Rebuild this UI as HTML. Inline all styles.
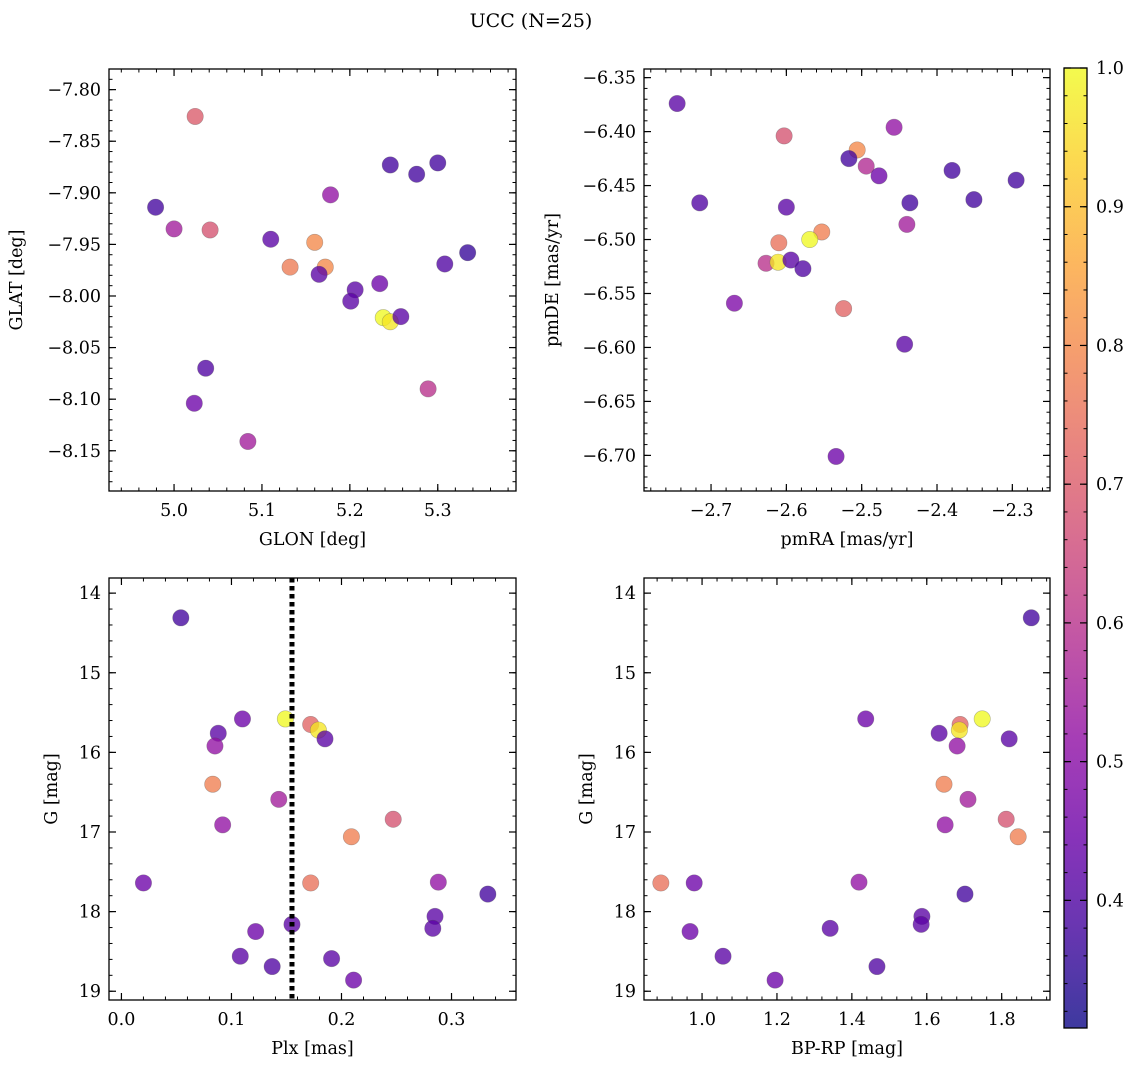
<!DOCTYPE html>
<html><head><meta charset="utf-8">
<style>
html,body{margin:0;padding:0;background:#fff;}
svg{display:block;font-family:"DejaVu Serif","Liberation Serif",serif;}
</style></head>
<body>
<svg id="fig" width="1136" height="1068" viewBox="0 0 1136 1068" xmlns="http://www.w3.org/2000/svg">
<text x="531" y="27" font-size="19" text-anchor="middle">UCC (N=25)</text>
</svg>
<script>
// ---- data ----
const glon = [5.024,4.979,5.000,5.041,5.110,5.160,5.132,5.172,5.165,5.178,5.246,5.276,5.300,5.334,5.308,5.234,5.206,5.201,5.238,5.246,5.258,5.036,5.289,5.023,5.084];
const glat = [-7.826,-7.914,-7.935,-7.936,-7.945,-7.948,-7.972,-7.972,-7.979,-7.902,-7.873,-7.882,-7.871,-7.958,-7.969,-7.988,-7.994,-8.005,-8.021,-8.025,-8.020,-8.070,-8.090,-8.104,-8.141];
const probPos = [0.70,0.38,0.55,0.68,0.42,0.80,0.77,0.80,0.42,0.52,0.38,0.38,0.38,0.36,0.40,0.45,0.42,0.42,1.00,0.97,0.42,0.40,0.60,0.45,0.55];

const pmra = [-2.745,-2.603,-2.457,-2.506,-2.517,-2.494,-2.477,-2.380,-2.295,-2.715,-2.600,-2.436,-2.351,-2.440,-2.610,-2.553,-2.569,-2.627,-2.611,-2.594,-2.578,-2.669,-2.524,-2.443,-2.534];
const pmde = [-6.374,-6.404,-6.396,-6.417,-6.425,-6.432,-6.441,-6.436,-6.445,-6.466,-6.470,-6.466,-6.463,-6.486,-6.503,-6.493,-6.500,-6.522,-6.521,-6.519,-6.527,-6.559,-6.564,-6.597,-6.701];
const probPm = [0.42,0.68,0.52,0.80,0.38,0.58,0.45,0.38,0.38,0.40,0.42,0.38,0.38,0.55,0.75,0.78,1.00,0.60,0.97,0.42,0.40,0.48,0.72,0.42,0.45];

const plx = [0.054,0.110,0.149,0.172,0.179,0.185,0.088,0.085,0.083,0.143,0.092,0.247,0.209,0.020,0.172,0.288,0.333,0.285,0.283,0.155,0.122,0.108,0.137,0.191,0.211];
const gPlx = [14.31,15.58,15.58,15.65,15.72,15.83,15.76,15.92,16.40,16.59,16.91,16.84,17.06,17.64,17.64,17.63,17.78,18.06,18.21,18.16,18.25,18.56,18.69,18.59,18.86];
const probPlx = [0.38,0.45,1.00,0.72,0.97,0.42,0.42,0.52,0.78,0.55,0.52,0.68,0.78,0.45,0.75,0.52,0.38,0.42,0.42,0.42,0.45,0.42,0.40,0.42,0.45];
const plxMean = 0.155;

const bprp = [1.879,1.437,1.633,1.689,1.687,1.748,1.681,1.820,1.646,1.710,1.649,1.812,1.844,0.890,0.979,1.419,1.702,1.587,1.585,0.968,1.056,1.342,1.467,1.195];
const gCmd = [14.31,15.58,15.76,15.65,15.72,15.58,15.92,15.83,16.40,16.59,16.91,16.84,17.06,17.64,17.64,17.63,17.78,18.06,18.16,18.25,18.56,18.21,18.69,18.86];
const probCmd = [0.38,0.45,0.42,0.72,0.97,1.00,0.52,0.42,0.78,0.55,0.52,0.68,0.78,0.75,0.45,0.52,0.38,0.42,0.42,0.45,0.42,0.42,0.40,0.45];

const cbTicks = [0.4,0.5,0.6,0.7,0.8,0.9,1.0];
const VMIN = 0.308, VMAX = 1.0;

// ---- helpers ----
const NS = "http://www.w3.org/2000/svg";
const svg = document.getElementById('fig');
const FS = 17.5;
function mk(tag, attrs, parent){const e=document.createElementNS(NS,tag);for(const k in attrs)e.setAttribute(k,attrs[k]);(parent||svg).appendChild(e);return e;}
const stops=["#0d0887","#41049d","#6a00a8","#8f0da4","#b12a90","#cc4778","#e16462","#f2844b","#fca636","#fcce25","#f0f921"];
function hex(h){return [parseInt(h.substr(1,2),16),parseInt(h.substr(3,2),16),parseInt(h.substr(5,2),16)];}
function plasma(t){t=Math.max(0,Math.min(1,t));const f=t*10;const i=Math.min(9,Math.floor(f));const r=f-i;const a=hex(stops[i]),b=hex(stops[i+1]);return `rgb(${Math.round(a[0]+(b[0]-a[0])*r)},${Math.round(a[1]+(b[1]-a[1])*r)},${Math.round(a[2]+(b[2]-a[2])*r)})`;}
function fmt(v,d){let s=v.toFixed(d);if(v<0)s='\u2212'+s.substring(1);return s;}

function panel(o){
  const {name,x0,y0,x1,y1,xmin,xmax,ymin,ymax,xTicks,yTicks,xMinor,yMinor,xDec,yDec,xLabel,yLabel,yLabelX,invertY}=o;
  const g=mk('g',{});
  
  
  const sx=v=>x0+(v-xmin)/(xmax-xmin)*(x1-x0);
  const sy=invertY?(v=>y0+(v-ymin)/(ymax-ymin)*(y1-y0)):(v=>y1-(v-ymin)/(ymax-ymin)*(y1-y0));
  const lo=Math.min(ymin,ymax),hi=Math.max(ymin,ymax);
  for(let v=Math.ceil(xmin/xMinor)*xMinor;v<=xmax;v+=xMinor){const X=sx(v);
    mk('line',{x1:X,y1:y1,x2:X,y2:y1-3.5,stroke:'#000','stroke-width':1},g);
    mk('line',{x1:X,y1:y0,x2:X,y2:y0+3.5,stroke:'#000','stroke-width':1},g);}
  for(let v=Math.ceil(lo/yMinor)*yMinor;v<=hi;v+=yMinor){const Y=sy(v);
    mk('line',{x1:x0,y1:Y,x2:x0+3.5,y2:Y,stroke:'#000','stroke-width':1},g);
    mk('line',{x1:x1,y1:Y,x2:x1-3.5,y2:Y,stroke:'#000','stroke-width':1},g);}
  xTicks.forEach(v=>{const X=sx(v);
    mk('line',{x1:X,y1:y1,x2:X,y2:y1-7,stroke:'#000','stroke-width':1.2},g);
    mk('line',{x1:X,y1:y0,x2:X,y2:y0+7,stroke:'#000','stroke-width':1.2},g);
    const t=mk('text',{x:X,y:y1+25,'font-size':FS,'text-anchor':'middle'},g);t.textContent=fmt(v,xDec);
    
    });
  yTicks.forEach(v=>{const Y=sy(v);
    mk('line',{x1:x0,y1:Y,x2:x0+7,y2:Y,stroke:'#000','stroke-width':1.2},g);
    mk('line',{x1:x1,y1:Y,x2:x1-7,y2:Y,stroke:'#000','stroke-width':1.2},g);
    const t=mk('text',{x:x0-8,y:Y+6,'font-size':FS,'text-anchor':'end'},g);t.textContent=fmt(v,yDec);
    
    });
  const xl=mk('text',{x:(x0+x1)/2,y:y1+54,'font-size':FS,'text-anchor':'middle'},g);xl.textContent=xLabel;
  
  
  const yl=mk('text',{x:yLabelX,y:(y0+y1)/2,'font-size':FS,'text-anchor':'middle',transform:`rotate(-90 ${yLabelX} ${(y0+y1)/2})`},g);yl.textContent=yLabel;
  
  
  return {g,sx,sy};
}
function scatter(p,xs,ys,ps,name){
  const grp=mk('g',{},p.g);
  xs.forEach((x,i)=>{
    const c=mk('circle',{cx:p.sx(x),cy:p.sy(ys[i]),r:8.2,fill:plasma((ps[i]-VMIN)/(VMAX-VMIN)),'fill-opacity':0.78,stroke:'rgba(80,80,80,0.4)','stroke-width':0.6},grp);
    
    
  });
}
function frame(p,o){mk('rect',{x:o.x0,y:o.y0,width:o.x1-o.x0,height:o.y1-o.y0,fill:'none',stroke:'#000','stroke-width':1.3},p.g);}

const A={name:'sky',x0:109,y0:69,x1:516,y1:491,xmin:4.926,xmax:5.389,ymin:-8.189,ymax:-7.780,xTicks:[5.0,5.1,5.2,5.3],yTicks:[-7.80,-7.85,-7.90,-7.95,-8.00,-8.05,-8.10,-8.15],xMinor:0.02,yMinor:0.01,xDec:1,yDec:2,xLabel:'GLON [deg]',yLabel:'GLAT [deg]',yLabelX:22};
const pA=panel(A);scatter(pA,glon,glat,probPos,'sky');frame(pA,A);

const B={name:'pm',x0:644,y0:69,x1:1050,y1:491,xmin:-2.789,xmax:-2.250,ymin:-6.733,ymax:-6.342,xTicks:[-2.7,-2.6,-2.5,-2.4,-2.3],yTicks:[-6.35,-6.40,-6.45,-6.50,-6.55,-6.60,-6.65,-6.70],xMinor:0.02,yMinor:0.01,xDec:1,yDec:2,xLabel:'pmRA [mas/yr]',yLabel:'pmDE [mas/yr]',yLabelX:558};
const pB=panel(B);scatter(pB,pmra,pmde,probPm,'pm');frame(pB,B);

const C={name:'plx',x0:109,y0:578,x1:516,y1:1000,xmin:-0.0113,xmax:0.3586,ymin:13.81,ymax:19.11,xTicks:[0.0,0.1,0.2,0.3],yTicks:[14,15,16,17,18,19],xMinor:0.02,yMinor:0.2,xDec:1,yDec:0,xLabel:'Plx [mas]',yLabel:'G [mag]',yLabelX:57,invertY:true};
const pC=panel(C);scatter(pC,plx,gPlx,probPlx,'plx');
const dl=mk('line',{x1:pC.sx(plxMean),y1:C.y0,x2:pC.sx(plxMean),y2:C.y1,stroke:'#000','stroke-width':5,'stroke-dasharray':'4.5 3.5'},pC.g);


frame(pC,C);

const D={name:'cmd',x0:644,y0:578,x1:1050,y1:1000,xmin:0.845,xmax:1.929,ymin:13.81,ymax:19.11,xTicks:[1.0,1.2,1.4,1.6,1.8],yTicks:[14,15,16,17,18,19],xMinor:0.04,yMinor:0.2,xDec:1,yDec:0,xLabel:'BP-RP [mag]',yLabel:'G [mag]',yLabelX:592,invertY:true};
const pD=panel(D);scatter(pD,bprp,gCmd,probCmd,'cmd');frame(pD,D);

// colorbar
const cb=mk('g',{});


const defs=mk('defs',{},cb);
const lg=mk('linearGradient',{id:'cbg',x1:0,y1:1,x2:0,y2:0},defs);
for(let i=0;i<=20;i++){mk('stop',{offset:i/20,'stop-color':plasma(i/20),'stop-opacity':0.8},lg);}
const cx0=1064,cx1=1087,cy0=68,cy1=1028;
mk('rect',{x:cx0,y:cy0,width:cx1-cx0,height:cy1-cy0,fill:'url(#cbg)'},cb);
const cy=v=>cy1-(v-VMIN)/(VMAX-VMIN)*(cy1-cy0);
for(let v=0.32;v<=1.0001;v+=0.02){const Y=cy(v);mk('line',{x1:cx1,y1:Y,x2:cx1-3.5,y2:Y,stroke:'#000','stroke-width':1},cb);mk('line',{x1:cx0,y1:Y,x2:cx0+3.5,y2:Y,stroke:'#000','stroke-width':1},cb);}
cbTicks.forEach(v=>{const Y=cy(v);
  mk('line',{x1:cx1,y1:Y,x2:cx1-7,y2:Y,stroke:'#000','stroke-width':1.2},cb);
  mk('line',{x1:cx0,y1:Y,x2:cx0+7,y2:Y,stroke:'#000','stroke-width':1.2},cb);
  const t=mk('text',{x:cx1+9,y:Y+6,'font-size':FS},cb);t.textContent=v.toFixed(1);
  
  });
mk('rect',{x:cx0,y:cy0,width:cx1-cx0,height:cy1-cy0,fill:'none',stroke:'#000','stroke-width':1.3},cb);
</script>
</body></html>
